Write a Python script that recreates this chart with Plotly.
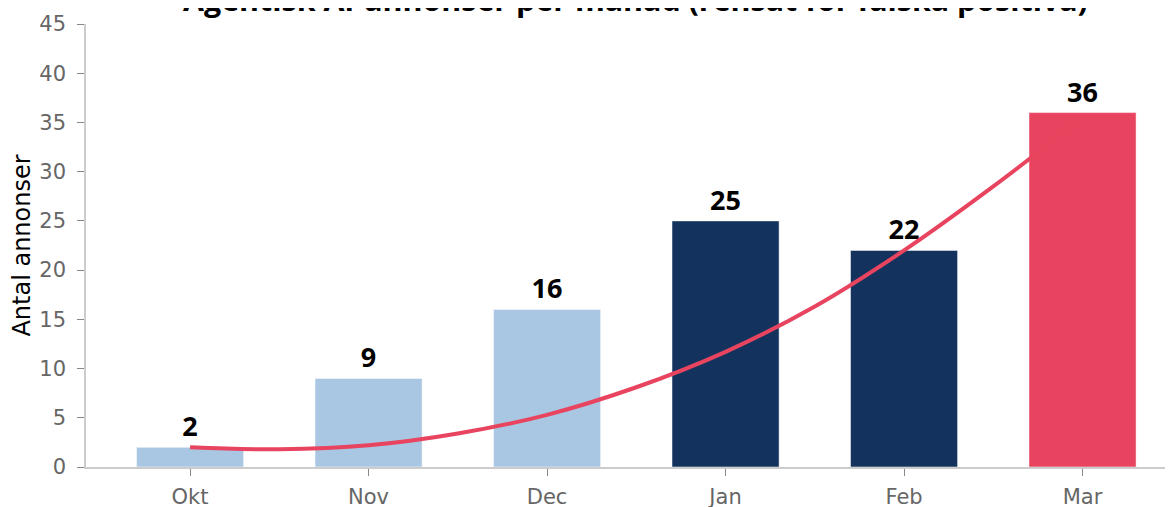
import plotly.graph_objects as go

months = ["Okt", "Nov", "Dec", "Jan", "Feb", "Mar"]
counts = [2, 9, 16, 25, 22, 36]
bar_colors = ["#A9C6E2", "#A9C6E2", "#A9C6E2", "#13335E", "#13335E", "#E8445F"]

# trend curve (position along category axis, value)
trend_x = [0, 0.5, 1, 1.5, 2, 2.5, 3, 3.5, 4, 4.5, 5]
trend_y = [2, 1.8, 2.2, 3.4, 5.3, 8.1, 11.7, 16.3, 22, 28.5, 35.5]

title = "Agentisk AI-annonser per månad (rensat för falska positiva)"
font = "DejaVu Sans"
bold_font = "Open Sans"

fig = go.Figure()
fig.add_trace(go.Bar(
    x=list(range(len(months))), y=counts, width=0.6,
    marker=dict(color=bar_colors, line=dict(color="white", width=0.5)),
    text=[str(c) for c in counts], textposition="outside",
    textfont=dict(family=bold_font, size=27, color="black", weight="bold"),
    cliponaxis=False, showlegend=False,
))
fig.add_trace(go.Scatter(
    x=trend_x, y=trend_y, mode="lines", line=dict(color="#E8445F", width=4, shape="spline"),
    showlegend=False, hoverinfo="skip",
))

fig.add_annotation(
    text=f"<b>{title}</b>", xref="paper", yref="paper", x=0.507, y=1.055,
    xanchor="center", yanchor="middle", showarrow=False,
    font=dict(family=bold_font, size=30.4, color="black"),
)

fig.update_layout(
    width=1165, height=499,
    margin=dict(l=78, r=3, t=16, b=40),
    plot_bgcolor="white", paper_bgcolor="white",
    font=dict(family=font),
    xaxis=dict(
        tickmode="array", tickvals=list(range(len(months))), ticktext=months,
        range=[-0.583, 5.49], showline=True, linecolor="#cccccc", linewidth=1.5,
        ticks="outside", ticklen=7, tickcolor="#888888", tickwidth=1,
        tickfont=dict(family=font, size=21, color="#666666"), showgrid=False, zeroline=False,
        ticklabelstandoff=3, automargin=False,
    ),
    yaxis=dict(
        range=[0, 45], tickmode="array", tickvals=list(range(0, 50, 5)),
        showline=True, linecolor="#cccccc", linewidth=1.5,
        ticks="outside", ticklen=7, tickcolor="#888888", tickwidth=1,
        tickfont=dict(family=font, size=21, color="#666666"), showgrid=False, zeroline=False,
        ticklabelstandoff=7, automargin=False,
        title=dict(text="Antal annonser", font=dict(family=font, size=24, color="black"), standoff=10),
    ),
)

fig.write_html("out.html")
